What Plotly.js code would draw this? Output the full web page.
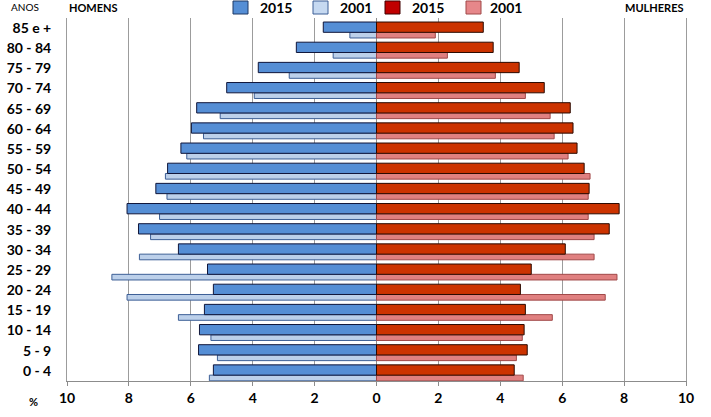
<!DOCTYPE html>
<html>
<head>
<meta charset="utf-8">
<script src="https://cdn.plot.ly/plotly-3.0.1.min.js"></script>
<style>html,body{margin:0;padding:0;background:#fff}#chart{width:711px;height:417px}</style>
</head>
<body>
<div id="chart"></div>
<script>
// Age groups, top to bottom
const ageGroups = ["85 e +","80 - 84","75 - 79","70 - 74","65 - 69","60 - 64","55 - 59","50 - 54","45 - 49","40 - 44","35 - 39","30 - 34","25 - 29","20 - 24","15 - 19","10 - 14","5 - 9","0 - 4"];
// Percentages (%)
const men2015   = [1.72,2.59,3.82,4.84,5.81,5.98,6.32,6.75,7.13,8.06,7.69,6.40,5.46,5.27,5.56,5.72,5.75,5.27];
const men2001   = [0.86,1.40,2.82,3.95,5.05,5.59,6.13,6.82,6.77,7.01,7.30,7.66,8.55,8.06,6.40,5.35,5.14,5.40];
const women2015 = [3.45,3.77,4.61,5.42,6.26,6.35,6.48,6.71,6.87,7.84,7.52,6.10,5.00,4.65,4.81,4.77,4.87,4.45];
const women2001 = [1.90,2.29,3.84,4.81,5.61,5.74,6.19,6.90,6.84,6.84,7.03,7.03,7.77,7.39,5.68,4.71,4.52,4.74];
const tickVals  = [-10,-8,-6,-4,-2,0,2,4,6,8,10];
const tickText  = ["10","8","6","4","2","0","2","4","6","8","10"];
const legendYears = ["2015","2001","2015","2001"];

const FONT = "Lato, 'DejaVu Sans', sans-serif";
const neg = a => a.map(v => -v);

const traces = [
  {type:'bar', orientation:'h', y:ageGroups, x:neg(men2001), offset:0.21, width:0.28,
   marker:{color:'#BCD0EA', line:{color:'#3D5F96', width:1}}, hoverinfo:'skip'},
  {type:'bar', orientation:'h', y:ageGroups, x:women2001, offset:0.21, width:0.28,
   marker:{color:'#E08080', line:{color:'#A04848', width:1}}, hoverinfo:'skip'},
  {type:'bar', orientation:'h', y:ageGroups, x:neg(men2015), offset:-0.30, width:0.51,
   marker:{color:'#558ED5', line:{color:'#10163A', width:1}}, hoverinfo:'skip'},
  {type:'bar', orientation:'h', y:ageGroups, x:women2015, offset:-0.30, width:0.51,
   marker:{color:'#CC3300', line:{color:'#2A0A00', width:1}}, hoverinfo:'skip'}
];

// legend swatches built as shapes (pixel -> paper)
const L = 67, R = 686, T = 18, B = 381;
const W = R - L, H = B - T;
const px = x => (x - L) / W;
const py = y => (B - y) / H;
const swX = [233, 313, 385, 466];
const txX = [258, 338, 410, 488];
const swCol = ['#558ED5','#C6D9F1','#C00000','#E6878A'];
const swLine = ['#1F3864','#3D5F96','#400000','#A04848'];
const shapes = [];
const annotations = [];
for (let i = 0; i < 4; i++) {
  shapes.push({type:'rect', xref:'paper', yref:'paper', x0:px(swX[i]), x1:px(swX[i]+15), y0:py(14), y1:py(1),
    fillcolor:swCol[i], line:{color:swLine[i], width:1}});
  annotations.push({xref:'paper', yref:'paper', x:px(txX[i]), y:py(8), xanchor:'left', yanchor:'middle',
    text:legendYears[i], showarrow:false, font:{family:FONT, size:14, color:'#000', weight:'bold'}});
}
annotations.push({xref:'paper', yref:'paper', x:px(25), y:py(7), xanchor:'center', yanchor:'middle',
  text:'ANOS', showarrow:false, font:{family:FONT, size:10, color:'#000'}});
annotations.push({xref:'paper', yref:'paper', x:px(67), y:py(7), xanchor:'left', yanchor:'middle',
  text:'HOMENS', showarrow:false, font:{family:FONT, size:11, color:'#000', weight:'bold'}});
annotations.push({xref:'paper', yref:'paper', x:px(686), y:py(7), xanchor:'right', yanchor:'middle',
  text:'MULHERES', showarrow:false, font:{family:FONT, size:11, color:'#000', weight:'bold'}});
annotations.push({xref:'paper', yref:'paper', x:px(33), y:py(401), xanchor:'center', yanchor:'middle',
  text:'%', showarrow:false, font:{family:FONT, size:11, color:'#000', weight:'bold'}});

const layout = {
  width:711, height:417,
  margin:{l:L, r:711-R, t:T, b:417-B, pad:0},
  paper_bgcolor:'#fff', plot_bgcolor:'#fff',
  barmode:'overlay', showlegend:false,
  font:{family:FONT, color:'#000'},
  xaxis:{range:[-10,10], tickvals:tickVals, ticktext:tickText, showgrid:true, gridcolor:'#9C9C9C', gridwidth:1,
    zeroline:true, zerolinecolor:'#8C8C8C', zerolinewidth:1,
    showline:true, linecolor:'#8C8C8C', linewidth:1, ticks:'outside', ticklen:4, tickcolor:'#8C8C8C',
    tickfont:{family:FONT, size:14, color:'#000', weight:'bold'}, fixedrange:true},
  yaxis:{type:'category', categoryarray:ageGroups, categoryorder:'array', autorange:'reversed',
    showgrid:false, showline:true, mirror:true, linecolor:'#9C9C9C', linewidth:1, ticks:'',
    ticklabelstandoff:12, tickfont:{family:FONT, size:14, color:'#000', weight:'bold'}, fixedrange:true},
  shapes:shapes, annotations:annotations
};
Plotly.newPlot('chart', traces, layout, {staticPlot:true, displayModeBar:false});
</script>
</body>
</html>
